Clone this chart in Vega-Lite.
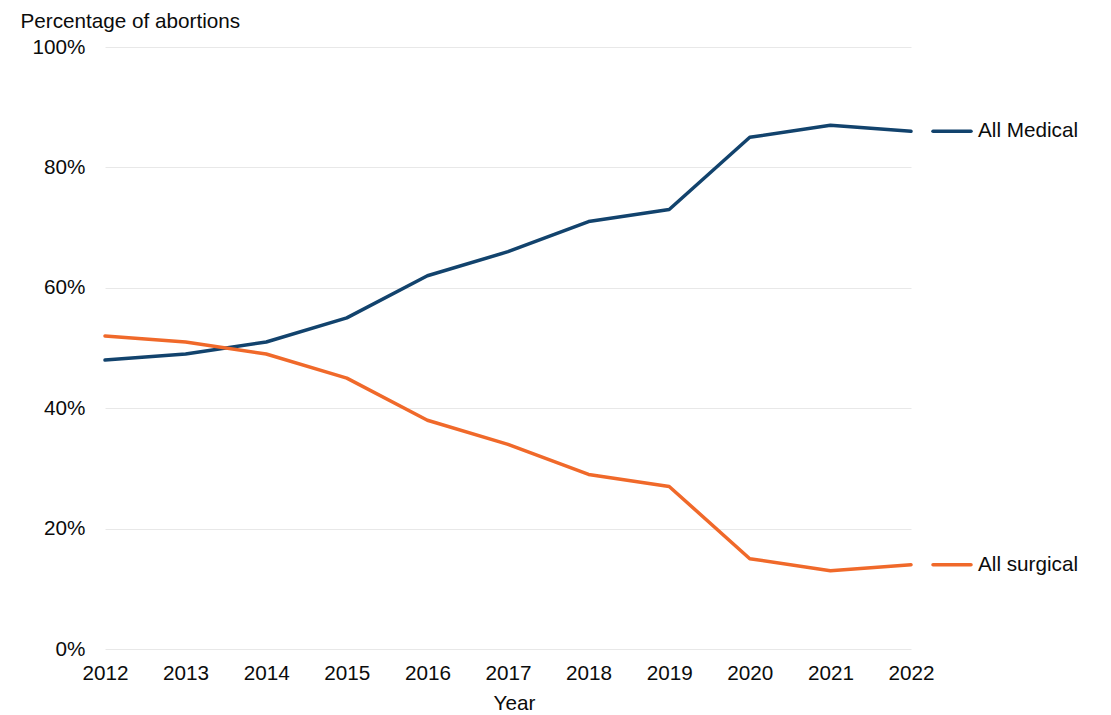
{
  "$schema": "https://vega.github.io/schema/vega-lite/v6.json",
  "autosize": {"type": "none"},
  "padding": {"left": 105, "top": 47, "right": 200, "bottom": 66},
  "width": 806,
  "height": 602,
  "background": "white",
  "config": {
    "view": {"stroke": null},
    "font": "Liberation Sans",
    "axis": {"labelFont": "Liberation Sans", "titleFont": "Liberation Sans", "labelColor": "#0b0c0c", "titleColor": "#0b0c0c"}
  },
  "data": {
    "values": [
      {"year": 2012, "series": "All Medical", "value": 48},
      {"year": 2013, "series": "All Medical", "value": 49},
      {"year": 2014, "series": "All Medical", "value": 51},
      {"year": 2015, "series": "All Medical", "value": 55},
      {"year": 2016, "series": "All Medical", "value": 62},
      {"year": 2017, "series": "All Medical", "value": 66},
      {"year": 2018, "series": "All Medical", "value": 71},
      {"year": 2019, "series": "All Medical", "value": 73},
      {"year": 2020, "series": "All Medical", "value": 85},
      {"year": 2021, "series": "All Medical", "value": 87},
      {"year": 2022, "series": "All Medical", "value": 86},
      {"year": 2012, "series": "All surgical", "value": 52},
      {"year": 2013, "series": "All surgical", "value": 51},
      {"year": 2014, "series": "All surgical", "value": 49},
      {"year": 2015, "series": "All surgical", "value": 45},
      {"year": 2016, "series": "All surgical", "value": 38},
      {"year": 2017, "series": "All surgical", "value": 34},
      {"year": 2018, "series": "All surgical", "value": 29},
      {"year": 2019, "series": "All surgical", "value": 27},
      {"year": 2020, "series": "All surgical", "value": 15},
      {"year": 2021, "series": "All surgical", "value": 13},
      {"year": 2022, "series": "All surgical", "value": 14}
    ]
  },
  "encoding": {
    "x": {
      "field": "year", "type": "quantitative",
      "scale": {"domain": [2012, 2022], "nice": false, "zero": false},
      "axis": {
        "title": "Year", "values": [2012,2013,2014,2015,2016,2017,2018,2019,2020,2021,2022],
        "format": "d", "grid": false, "domain": false, "ticks": false,
        "labelFontSize": 20.7, "labelPadding": 14, "labelFlush": false,
        "titleFontSize": 20.7, "titleFontWeight": "normal", "titlePadding": 11,
        "titleX": 409
      }
    },
    "y": {
      "field": "value", "type": "quantitative",
      "scale": {"domain": [0, 100], "nice": false},
      "axis": {
        "title": "Percentage of abortions", "values": [0, 20, 40, 60, 80, 100],
        "labelExpr": "datum.value + '%'",
        "grid": true, "gridColor": "#e8e8e8", "gridWidth": 1,
        "domain": false, "ticks": false,
        "labelFontSize": 20.7, "labelPadding": 20,
        "titleFontSize": 20.7, "titleFontWeight": "normal",
        "titleAngle": 0, "titleAlign": "left", "titleBaseline": "alphabetic",
        "titleX": -85, "titleY": -20
      }
    },
    "color": {
      "field": "series", "type": "nominal",
      "scale": {"domain": ["All Medical", "All surgical"], "range": ["#12436D", "#F0692A"]},
      "legend": null
    }
  },
  "layer": [
    {"mark": {"type": "line", "strokeWidth": 3.5, "strokeCap": "round", "strokeJoin": "round"}},
    {
      "transform": [{"filter": "datum.year == 2022"}],
      "mark": {"type": "rule", "strokeWidth": 3.5, "strokeCap": "round", "xOffset": 22, "x2Offset": 60},
      "encoding": {"x2": {"field": "year"}}
    },
    {
      "transform": [{"filter": "datum.year == 2022"}],
      "mark": {"type": "text", "align": "left", "baseline": "middle", "dx": 67, "fontSize": 20.7, "font": "Liberation Sans", "color": "#0b0c0c"},
      "encoding": {"text": {"field": "series"}, "color": {"value": "#0b0c0c"}}
    }
  ]
}
